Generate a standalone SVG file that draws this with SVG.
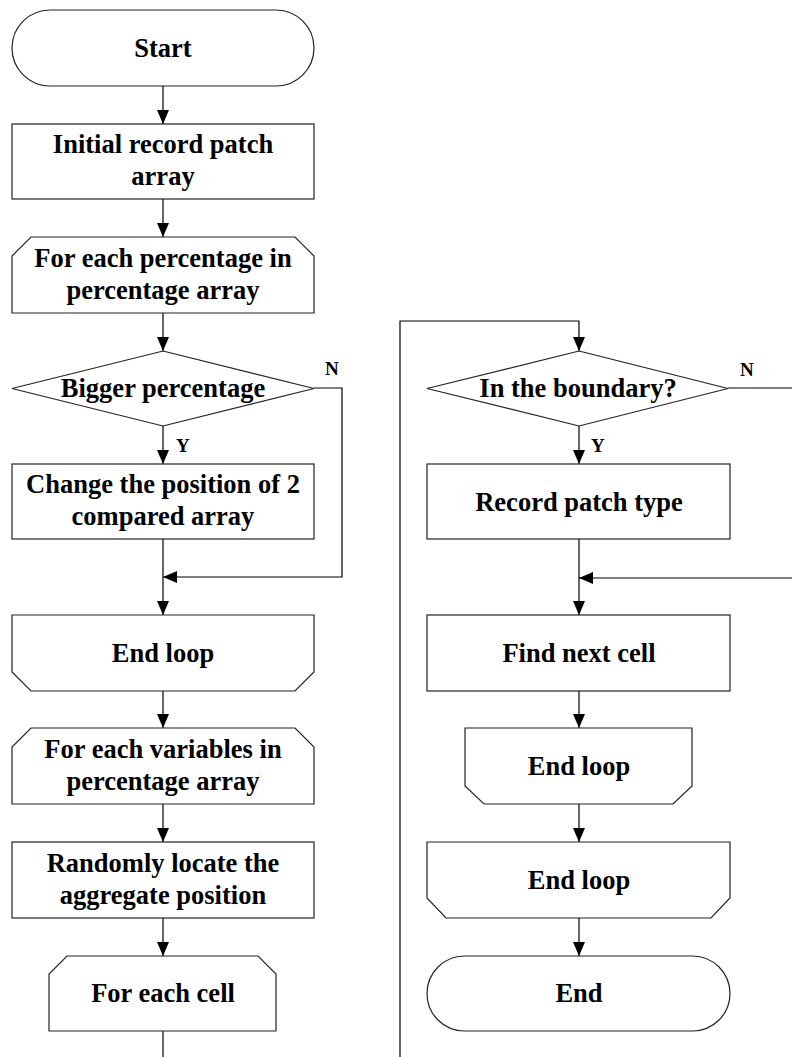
<svg xmlns="http://www.w3.org/2000/svg" width="792" height="1057" viewBox="0 0 792 1057">
<defs>
<marker id="ah" markerWidth="14" markerHeight="12" refX="14" refY="6" orient="auto" markerUnits="userSpaceOnUse">
<path d="M0,0 L14,6 L0,12 Z" fill="#000"/>
</marker>
<style>
.s{fill:#fff;stroke:#222;stroke-width:1.2}
.c{fill:none;stroke:#000;stroke-width:1.2}
.t{font-family:"Liberation Serif","Times New Roman",serif;font-weight:bold;font-size:26.5px;text-anchor:middle;fill:#000}
.l{font-family:"Liberation Serif","Times New Roman",serif;font-weight:bold;font-size:19px;fill:#000}
</style>
</defs>
<rect width="792" height="1057" fill="#fff"/>
<g id="connectors">
<path class="c" d="M163,86 V124" marker-end="url(#ah)"/>
<path class="c" d="M163,199 V237" marker-end="url(#ah)"/>
<path class="c" d="M163,313 V351" marker-end="url(#ah)"/>
<path class="c" d="M163,426 V464" marker-end="url(#ah)"/>
<path class="c" d="M314,388 H342 V577 H163" marker-end="url(#ah)"/>
<path class="c" d="M163,539 V615" marker-end="url(#ah)"/>
<path class="c" d="M163,691 V728" marker-end="url(#ah)"/>
<path class="c" d="M163,804 V842" marker-end="url(#ah)"/>
<path class="c" d="M163,918 V956" marker-end="url(#ah)"/>
<path class="c" d="M163,1031 V1057"/>
<path class="c" d="M400,1057 V321 H579 V351" marker-end="url(#ah)"/>
<path class="c" d="M579,426 V464" marker-end="url(#ah)"/>
<path class="c" d="M728,388 H792"/>
<path class="c" d="M792,578 H579" marker-end="url(#ah)"/>
<path class="c" d="M579,539 V615" marker-end="url(#ah)"/>
<path class="c" d="M579,691 V728" marker-end="url(#ah)"/>
<path class="c" d="M579,804 V842" marker-end="url(#ah)"/>
<path class="c" d="M579,918 V956" marker-end="url(#ah)"/>
<text class="l" x="325" y="375">N</text>
<text class="l" x="176" y="452">Y</text>
<text class="l" x="740" y="376">N</text>
<text class="l" x="591" y="452">Y</text>
</g>
<g id="start">
<rect class="s" x="12" y="10" width="302" height="76" rx="38" ry="38"/>
<text class="t" x="163" y="57">Start</text>
</g>
<g id="init">
<rect class="s" x="12" y="124" width="302" height="75"/>
<text class="t" x="163" y="153">Initial record patch</text>
<text class="t" x="163" y="185">array</text>
</g>
<g id="loop1">
<path class="s" d="M12,313 V256 L31,237 H295 L314,256 V313 Z"/>
<text class="t" x="163" y="267">For each percentage in</text>
<text class="t" x="163" y="299">percentage array</text>
</g>
<g id="bigger">
<path class="s" d="M163,351 L314,388.5 L163,426 L12,388.5 Z"/>
<text class="t" x="163" y="397">Bigger percentage</text>
</g>
<g id="change">
<rect class="s" x="12" y="464" width="302" height="75"/>
<text class="t" x="163" y="493">Change the position of 2</text>
<text class="t" x="163" y="525">compared array</text>
</g>
<g id="endloop1">
<path class="s" d="M12,615 V672 L31,691 H295 L314,672 V615 Z"/>
<text class="t" x="163" y="662">End loop</text>
</g>
<g id="loop2">
<path class="s" d="M12,804 V747 L31,728 H295 L314,747 V804 Z"/>
<text class="t" x="163" y="758">For each variables in</text>
<text class="t" x="163" y="790">percentage array</text>
</g>
<g id="random">
<rect class="s" x="12" y="842" width="302" height="76"/>
<text class="t" x="163" y="872">Randomly locate the</text>
<text class="t" x="163" y="904">aggregate position</text>
</g>
<g id="loop3">
<path class="s" d="M49,1031 V974 L67,956 H258 L276,974 V1031 Z"/>
<text class="t" x="163" y="1002">For each cell</text>
</g>
<g id="boundary">
<path class="s" d="M579,351 L728,388.5 L579,426 L427,388.5 Z"/>
<text class="t" x="578" y="397">In the boundary?</text>
</g>
<g id="record">
<rect class="s" x="427" y="464" width="303" height="75"/>
<text class="t" x="579" y="511">Record patch type</text>
</g>
<g id="findnext">
<rect class="s" x="427" y="615" width="303" height="76"/>
<text class="t" x="579" y="662">Find next cell</text>
</g>
<g id="endloop2">
<path class="s" d="M465,728 V786 L484,804 H673 L692,786 V728 Z"/>
<text class="t" x="579" y="775">End loop</text>
</g>
<g id="endloop3">
<path class="s" d="M427,842 V898 L446,918 H711 L730,898 V842 Z"/>
<text class="t" x="579" y="889">End loop</text>
</g>
<g id="end">
<rect class="s" x="427" y="956" width="303" height="75" rx="37.5" ry="37.5"/>
<text class="t" x="579" y="1002">End</text>
</g>
</svg>
